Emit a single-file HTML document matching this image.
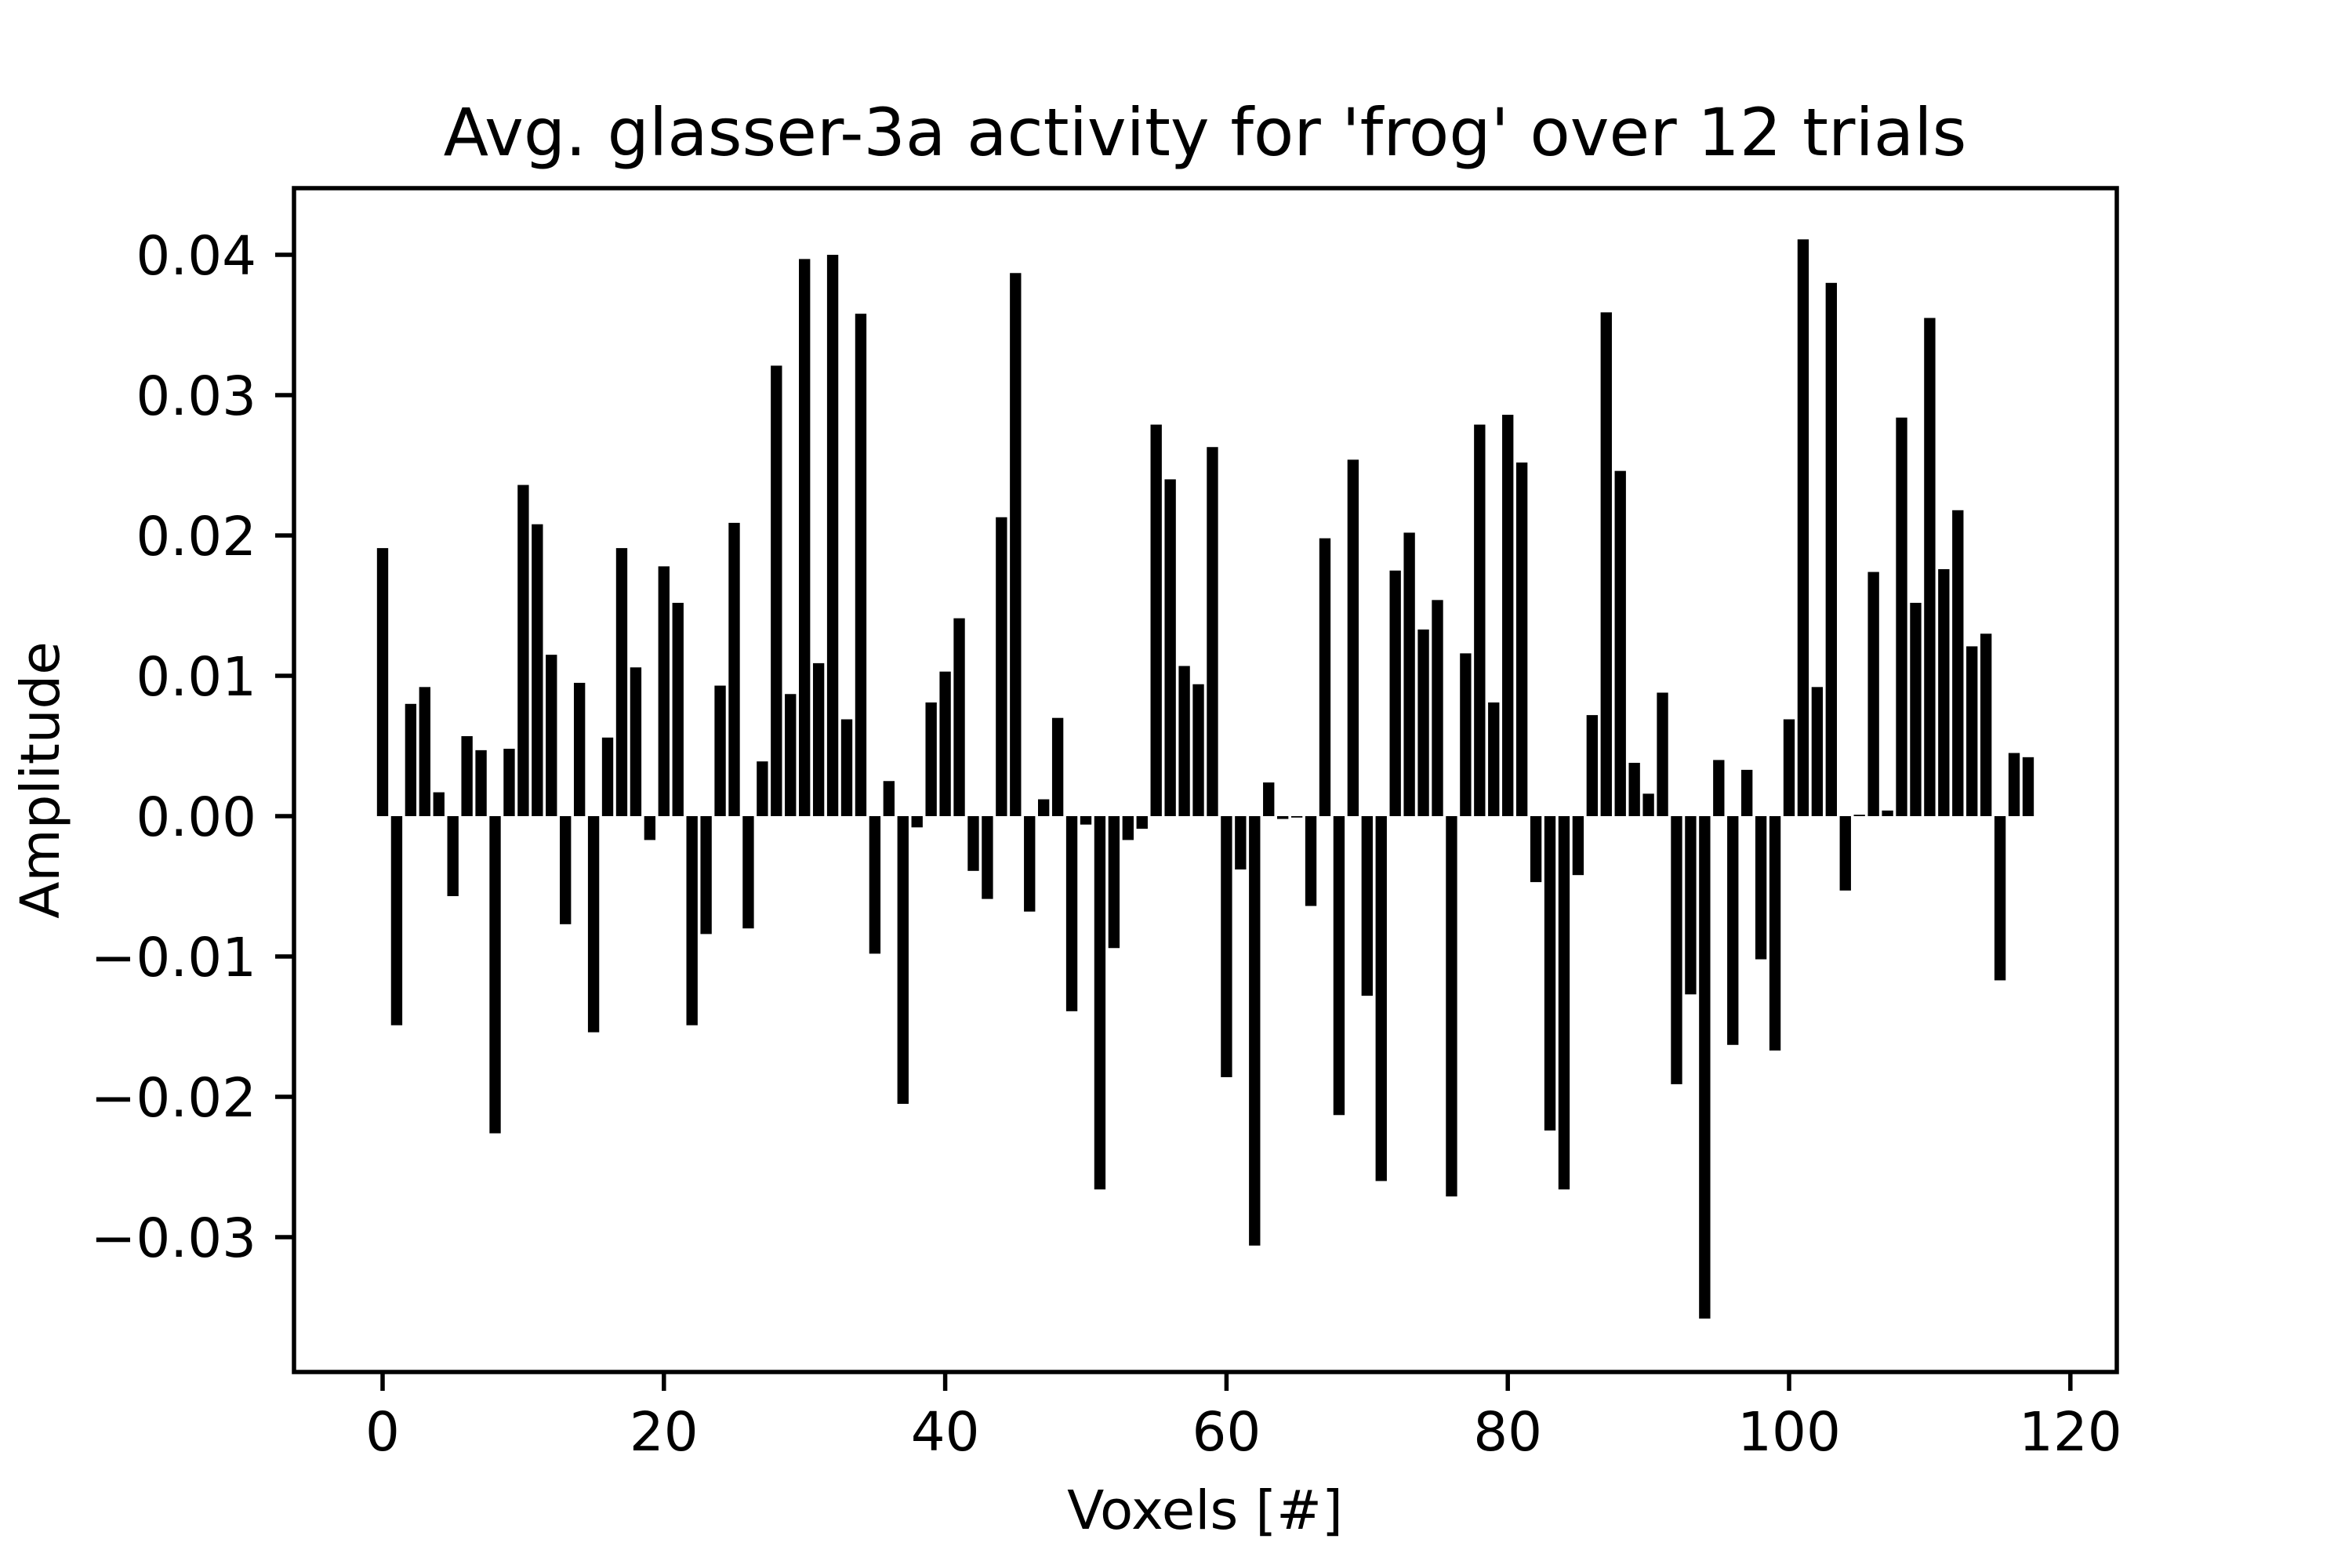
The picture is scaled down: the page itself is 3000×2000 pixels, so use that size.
<!DOCTYPE html>
<html><head><meta charset="utf-8"><style>
html,body{margin:0;padding:0;background:#fff;}
svg{display:block;font-family:"DejaVu Sans","Liberation Sans",sans-serif;}
</style></head><body>
<svg id="chart" width="3000" height="2000" viewBox="0 0 3000 2000" xmlns="http://www.w3.org/2000/svg">
<rect width="3000" height="2000" fill="#fff"/>
<text x="1537" y="198" font-size="84" text-anchor="middle">Avg. glasser-3a activity for 'frog' over 12 trials</text>
<g id="bars"></g>
<g id="axes"></g>
<rect x="375" y="240" width="2325" height="1510" fill="none" stroke="#000" stroke-width="5.5"/>
<text x="1537" y="1950" font-size="69" text-anchor="middle">Voxels [#]</text>
<text transform="translate(75,995) rotate(-90)" font-size="69" text-anchor="middle">Amplitude</text>
</svg>
<script>
const values = [0.0191,-0.0149,0.0080,0.0092,0.0017,-0.0057,0.0057,0.0047,-0.0226,0.0048,
0.0236,0.0208,0.0115,-0.0077,0.0095,-0.0154,0.0056,0.0191,0.0106,-0.0017,
0.0178,0.0152,-0.0149,-0.0084,0.0093,0.0209,-0.0080,0.0039,0.0321,0.0087,
0.0397,0.0109,0.0400,0.0069,0.0358,-0.0098,0.0025,-0.0205,-0.0008,0.0081,
0.0103,0.0141,-0.0039,-0.0059,0.0213,0.0387,-0.0068,0.0012,0.0070,-0.0139,
-0.0006,-0.0266,-0.0094,-0.0017,-0.0009,0.0279,0.0240,0.0107,0.0094,0.0263,
-0.0186,-0.0038,-0.0306,0.0024,-0.0002,-0.0001,-0.0064,0.0198,-0.0213,0.0254,
-0.0128,-0.0260,0.0175,0.0202,0.0133,0.0154,-0.0271,0.0116,0.0279,0.0081,
0.0286,0.0252,-0.0047,-0.0224,-0.0266,-0.0042,0.0072,0.0359,0.0246,0.0038,
0.0016,0.0088,-0.0191,-0.0127,-0.0358,0.0040,-0.0163,0.0033,-0.0102,-0.0167,
0.0069,0.0411,0.0092,0.0380,-0.0053,0.0001,0.0174,0.0004,0.0284,0.0152,
0.0355,0.0176,0.0218,0.0121,0.0130,-0.0117,0.0045,0.0042];
const xTicks = [0,20,40,60,80,100,120];
const yTicks = [-0.03,-0.02,-0.01,0,0.01,0.02,0.03,0.04];
const yTickLabels = ["\u22120.03","\u22120.02","\u22120.01","0.00","0.01","0.02","0.03","0.04"];

const NS="http://www.w3.org/2000/svg";
const X=v=>488+(v)*17.94;
const Y=v=>1041-v*17900;
const bars=document.getElementById('bars');
values.forEach((v,i)=>{
  const r=document.createElementNS(NS,'rect');
  
  
  const y0=Y(0), y1=Y(v);
  r.setAttribute('x',X(i-0.4));
  r.setAttribute('width',17.94*0.8);
  r.setAttribute('y',Math.min(y0,y1));
  r.setAttribute('height',Math.max(Math.abs(y1-y0),0.5));
  r.setAttribute('fill','#000');
  bars.appendChild(r);
});
const axes=document.getElementById('axes');
xTicks.forEach(t=>{
  const l=document.createElementNS(NS,'line');
  
  
  l.setAttribute('x1',X(t));l.setAttribute('x2',X(t));
  l.setAttribute('y1',1750);l.setAttribute('y2',1774);
  l.setAttribute('stroke','#000');l.setAttribute('stroke-width','5.5');
  axes.appendChild(l);
  const tx=document.createElementNS(NS,'text');
  
  
  tx.setAttribute('x',X(t));tx.setAttribute('y',1850);
  tx.setAttribute('font-size','69');tx.setAttribute('text-anchor','middle');
  tx.textContent=String(t);
  axes.appendChild(tx);
});
yTicks.forEach((t,i)=>{
  const l=document.createElementNS(NS,'line');
  
  
  l.setAttribute('x1',351);l.setAttribute('x2',375);
  l.setAttribute('y1',Y(t));l.setAttribute('y2',Y(t));
  l.setAttribute('stroke','#000');l.setAttribute('stroke-width','5.5');
  axes.appendChild(l);
  const tx=document.createElementNS(NS,'text');
  
  
  tx.setAttribute('x',327);tx.setAttribute('y',Y(t)+25);
  tx.setAttribute('font-size','69');tx.setAttribute('text-anchor','end');
  tx.textContent=yTickLabels[i];
  axes.appendChild(tx);
});
</script>
</body></html>
